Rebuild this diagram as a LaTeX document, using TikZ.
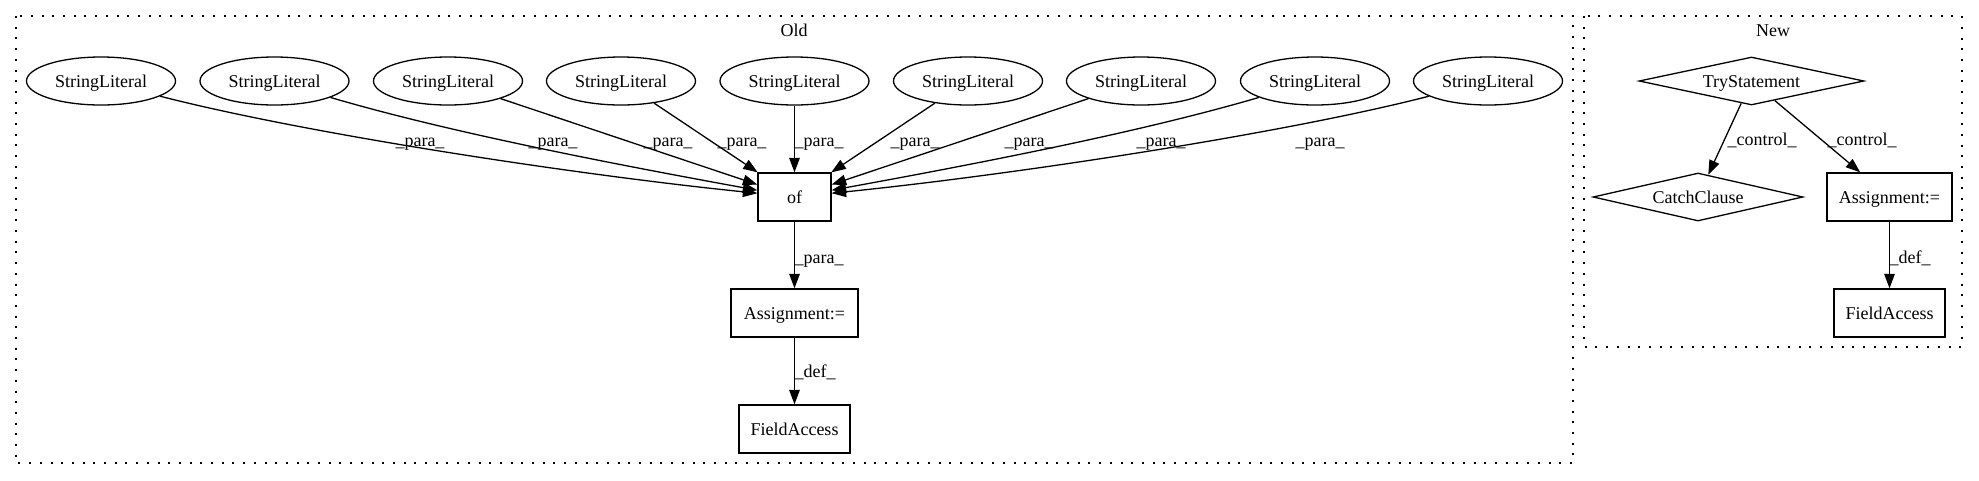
\documentclass[tikz,border=0pt]{standalone}
\usepackage{fontspec}
\setmainfont{Liberation Serif}
\usetikzlibrary{shapes.geometric,arrows.meta}
\begin{document}
\begin{tikzpicture}[x=1pt,y=-1pt,
  every node/.style={font=\fontsize{18}{22}\selectfont, inner sep=0pt},
  lit/.style={draw, ellipse, minimum width=149pt, minimum height=48pt, line width=1.3pt, text height=14pt, text depth=2pt},
  box/.style={draw, rectangle, minimum height=48pt, line width=1.3pt, text height=14pt, text depth=2pt},
  dia/.style={draw, diamond, minimum height=48pt, line width=1.3pt, text height=14pt, text depth=2pt},
  edge/.style={line width=1.3pt, -{Triangle[length=14.5pt,width=10.5pt]}},
  lbl/.style={anchor=base},
  cluster/.style={line width=1.5pt, dash pattern=on 2pt off 8.7pt}]
\fill[white] (0,0) rectangle (1979,480);
\useasboundingbox (0,0) rectangle (1979,480);
% clusters
\draw[cluster] (16,16) rectangle (1573,463);
\draw[cluster] (1584,16) rectangle (1962,347);
\node[lbl] (oldlbl) at (794,36) {Old};
\node[lbl] (newlbl) at (1773,36) {New};
% old nodes
\node[lit] (s1) at (101,81) {StringLiteral};
\node[lit] (s2) at (274.5,81) {StringLiteral};
\node[lit] (s3) at (448,81) {StringLiteral};
\node[lit] (s4) at (621,81) {StringLiteral};
\node[lit] (s5) at (794.5,81) {StringLiteral};
\node[lit] (s6) at (968,81) {StringLiteral};
\node[lit] (s7) at (1141,81) {StringLiteral};
\node[lit] (s8) at (1315,81) {StringLiteral};
\node[lit] (s9) at (1488,81) {StringLiteral};
\node[box, minimum width=73pt] (of) at (794.5,197) {of};
\node[box, minimum width=127pt] (asg) at (794.5,313) {Assignment:=};
\node[box, minimum width=111pt] (fa) at (794.5,429) {FieldAccess};
% new nodes
\node[dia, aspect=4.69, minimum width=225pt] (try) at (1751.5,81) {TryStatement};
\node[dia, aspect=4.375, minimum width=210pt] (catch) at (1698,197) {CatchClause};
\node[box, minimum width=125pt] (asg2) at (1889.5,197) {Assignment:=};
\node[box, minimum width=111pt] (fa2) at (1889.5,313) {FieldAccess};
% old edges
\draw[edge] (s1) .. controls (307,134) and (578,175) .. (of);
\draw[edge] (s2) .. controls (448,132) and (608,163) .. (of);
\draw[edge] (s3) -- (of);
\draw[edge] (s4) -- (of);
\draw[edge] (s5) -- (of);
\draw[edge] (s6) -- (of);
\draw[edge] (s7) -- (of);
\draw[edge] (s8) .. controls (1141,132) and (981,163) .. (of);
\draw[edge] (s9) .. controls (1282,134) and (1011,175) .. (of);
\draw[edge] (of) -- (asg);
\draw[edge] (asg) -- (fa);
% new edges
\draw[edge] (try) -- (catch);
\draw[edge] (try) -- (asg2);
\draw[edge] (asg2) -- (fa2);
% labels
\node[lbl] (l1) at (420,146) {\_para\_};
\node[lbl] (l2) at (553,146) {\_para\_};
\node[lbl] (l3) at (668,146) {\_para\_};
\node[lbl] (l4) at (742,146) {\_para\_};
\node[lbl] (l5) at (819,146) {\_para\_};
\node[lbl] (l6) at (915,146) {\_para\_};
\node[lbl] (l7) at (1029,146) {\_para\_};
\node[lbl] (l8) at (1161,146) {\_para\_};
\node[lbl] (l9) at (1320,146) {\_para\_};
\node[lbl] (lp) at (819,263) {\_para\_};
\node[lbl] (ld) at (815,377) {\_def\_};
\node[lbl] (lc1) at (1762,145) {\_control\_};
\node[lbl] (lc2) at (1862,145) {\_control\_};
\node[lbl] (ld2) at (1910,263) {\_def\_};
\end{tikzpicture}
\end{document}
